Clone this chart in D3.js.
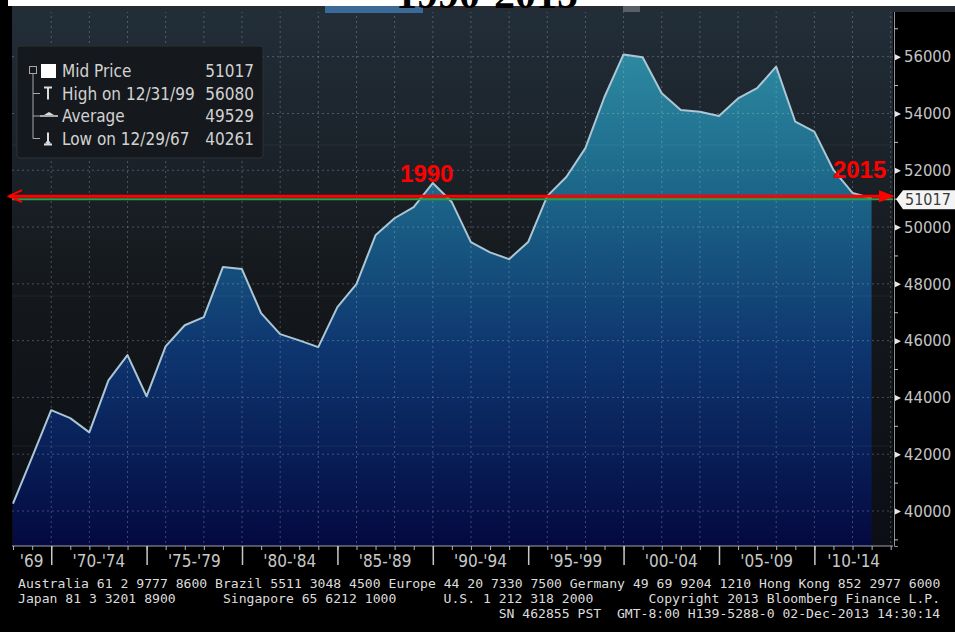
<!DOCTYPE html>
<html>
<head>
<meta charset="utf-8">
<script src="https://cdn.jsdelivr.net/npm/d3@7"></script>
<style>
body { margin: 0; background: #000; }
svg { display: block; }
</style>
</head>
<body>
<script>
"use strict"

// year-end mid price
const years = [1967, 1968, 1969, 1970, 1971, 1972, 1973, 1974, 1975, 1976, 1977, 1978, 1979,
	1980, 1981, 1982, 1983, 1984, 1985, 1986, 1987, 1988, 1989, 1990, 1991, 1992, 1993, 1994,
	1995, 1996, 1997, 1998, 1999, 2000, 2001, 2002, 2003, 2004, 2005, 2006, 2007, 2008, 2009,
	2010, 2011, 2012];
const midPrice = [40261, 41900, 43550, 43270, 42770, 44600, 45490, 44040, 45800, 46540, 46830, 48590, 48520,
	46970, 46230, 46010, 45770, 47180, 47990, 49710, 50310, 50700, 51550, 50880, 49470, 49110, 48870, 49470,
	51090, 51760, 52780, 54580, 56080, 55980, 54710, 54120, 54060, 53910, 54530, 54890, 55650, 53710, 53360,
	52010, 51200, 51017];

const yTicks = [40000, 42000, 44000, 46000, 48000, 50000, 52000, 54000, 56000];
const yMinorTicks = [39000, 41000, 43000, 45000, 47000, 49000, 51000, 53000, 55000, 57000];
const groupStarts = [1969, 1970, 1975, 1980, 1985, 1990, 1995, 2000, 2005, 2010];
const groupLabels = ["'69", "'70-'74", "'75-'79", "'80-'84", "'85-'89", "'90-'94", "'95-'99", "'00-'04", "'05-'09", "'10-'14"];

const legendNames = ['Mid Price', 'High on 12/31/99', 'Average', 'Low on 12/29/67'];
const legendValues = [51017, 56080, 49529, 40261];

// red labels, tied to the year-end point they sit over
const annotations = [['1990', 1989], ['2015', 2012]];
const title = '1990-2015';

const footerLines = [
	[[0, 'Australia 61 2 9777 8600 Brazil 5511 3048 4500 Europe 44 20 7330 7500 Germany 49 69 9204 1210 Hong Kong 852 2977 6000']],
	[[0, 'Japan 81 3 3201 8900'], [26, 'Singapore 65 6212 1000'], [54, 'U.S. 1 212 318 2000'], [80, 'Copyright 2013 Bloomberg Finance L.P.']],
	[[61, 'SN 462855 PST  GMT-8:00 H139-5288-0 02-Dec-2013 14:30:14']]
];

const w = 955;
const h = 632;
const pL = 12, pR = 893, pT = 6, pB = 546;
const uiFont = '"DejaVu Sans Condensed", "DejaVu Sans", sans-serif';

const data = years.map((y, i) => ({ date: new Date(y, 11, 31), value: midPrice[i] }));

const xScale = d3.scaleTime()
	.domain([new Date(1967, 11, 12), new Date(2014, 1, 14)])
	.range([pL, pR]);
const yScale = d3.scaleLinear()
	.domain([38767, 57785])
	.range([pB, pT]);

const svg = d3.select('body')
	.append('svg')
	.attr('width', w)
	.attr('height', h);

const defs = svg.append('defs');

const bgGrad = defs.append('linearGradient')
	.attr('id', 'bg')
	.attr('gradientUnits', 'userSpaceOnUse')
	.attr('x1', 0).attr('x2', 0).attr('y1', pT).attr('y2', pB);
bgGrad.append('stop').attr('offset', 0).attr('stop-color', '#222e39');
bgGrad.append('stop').attr('offset', 0.5).attr('stop-color', '#15191d');
bgGrad.append('stop').attr('offset', 1).attr('stop-color', '#0b0e14');

const fillGrad = defs.append('linearGradient')
	.attr('id', 'fill')
	.attr('gradientUnits', 'userSpaceOnUse')
	.attr('x1', 0).attr('x2', 0).attr('y1', 50).attr('y2', pB);
fillGrad.append('stop').attr('offset', 0).attr('stop-color', '#2d8aa1');
fillGrad.append('stop').attr('offset', 0.3).attr('stop-color', '#1b6487');
fillGrad.append('stop').attr('offset', 0.6).attr('stop-color', '#0e3670');
fillGrad.append('stop').attr('offset', 1).attr('stop-color', '#040940');

// frame
svg.append('rect').attr('width', w).attr('height', h).attr('fill', '#000');
svg.append('rect').attr('x', 8).attr('y', 0).attr('width', w - 8).attr('height', pT).attr('fill', '#fff');
svg.append('rect')
	.attr('x', pL).attr('y', pT)
	.attr('width', pR - pL).attr('height', pB - pT)
	.attr('fill', 'url(#bg)');

// area + line
const area = d3.area()
	.x(d => xScale(d.date))
	.y0(pB)
	.y1(d => yScale(d.value));
const line = d3.line()
	.x(d => xScale(d.date))
	.y(d => yScale(d.value));

svg.append('path')
	.datum(data)
	.attr('d', area)
	.attr('fill', 'url(#fill)');

// scan lines of the screen shot
svg.selectAll('.scan')
	.data([145, 296, 446])
	.enter()
	.append('line')
	.attr('x1', pL).attr('x2', pR)
	.attr('y1', d => d).attr('y2', d => d)
	.attr('stroke', '#ffffff')
	.attr('stroke-opacity', 0.06);

// dotted grid
const gridYears = d3.timeYear.every(2).range(new Date(1970, 0, 1), new Date(2015, 0, 1));
svg.selectAll('.vgrid')
	.data(gridYears)
	.enter()
	.append('line')
	.attr('x1', d => xScale(d)).attr('x2', d => xScale(d))
	.attr('y1', pT).attr('y2', pB)
	.attr('stroke', '#c8d0d8')
	.attr('stroke-opacity', 0.3)
	.attr('stroke-dasharray', '2,3');
svg.selectAll('.hgrid')
	.data(yTicks)
	.enter()
	.append('line')
	.attr('x1', pL).attr('x2', pR)
	.attr('y1', d => yScale(d)).attr('y2', d => yScale(d))
	.attr('stroke', '#c8d0d8')
	.attr('stroke-opacity', 0.3)
	.attr('stroke-dasharray', '2,3');

svg.append('path')
	.datum(data)
	.attr('d', line)
	.attr('fill', 'none')
	.attr('stroke', '#abc6d4')
	.attr('stroke-width', 2)
	.attr('stroke-linejoin', 'round');

// last price line
const lastVal = midPrice[midPrice.length - 1];
svg.append('line')
	.attr('x1', pL).attr('x2', pR)
	.attr('y1', yScale(lastVal) + 1).attr('y2', yScale(lastVal) + 1)
	.attr('stroke', '#2e9c48')
	.attr('stroke-width', 2);

// x axis
const xAxisG = svg.append('g')
	.attr('transform', 'translate(0,' + pB + ')');
xAxisG.append('line')
	.attr('x1', pL).attr('x2', pR)
	.attr('stroke', '#a0a4a8');
xAxisG.call(d3.axisBottom(xScale)
		.tickValues(d3.timeYear.range(new Date(1968, 0, 1), new Date(2015, 0, 1)))
		.tickSize(4)
		.tickFormat(''))
	.call(g => g.select('.domain').remove())
	.call(g => g.selectAll('.tick line').attr('stroke', '#b0b4b8'));
svg.append('g')
	.attr('transform', 'translate(0,' + pB + ')')
	.call(d3.axisBottom(xScale)
		.tickValues(groupStarts.slice(1).map(y => new Date(y, 0, 1)))
		.tickSize(19)
		.tickFormat(''))
	.call(g => g.select('.domain').remove())
	.call(g => g.selectAll('.tick line').attr('stroke', '#c8c8c8').attr('stroke-width', 1.5));

svg.selectAll('.grp')
	.data(groupLabels)
	.enter()
	.append('text')
	.attr('x', (d, i) => {
		const a = i === 0 ? pL : xScale(new Date(groupStarts[i], 0, 1));
		const b = i === groupLabels.length - 1 ? pR : xScale(new Date(groupStarts[i + 1], 0, 1));
		return (a + b) / 2;
	})
	.attr('y', 567)
	.attr('text-anchor', 'middle')
	.attr('font-family', uiFont)
	.attr('font-size', 17)
	.attr('fill', '#c8c8c8')
	.text(d => d);

// y axis on the right
svg.append('g')
	.attr('transform', 'translate(' + (pR + 1) + ',0)')
	.call(d3.axisRight(yScale)
		.tickValues(yMinorTicks)
		.tickSize(4)
		.tickFormat(''))
	.call(g => g.select('.domain').attr('stroke', '#8e949a'))
	.call(g => g.selectAll('.tick line').attr('stroke', '#c0c0c0'));
const yMajor = svg.append('g')
	.attr('transform', 'translate(' + (pR + 1) + ',0)')
	.call(d3.axisRight(yScale)
		.tickValues(yTicks)
		.tickSize(0)
		.tickPadding(10)
		.tickFormat(d3.format('d')))
	.call(g => g.select('.domain').remove());
yMajor.selectAll('.tick text')
	.attr('font-family', uiFont)
	.attr('font-size', 16.5)
	.attr('fill', '#c4c4c4');
yMajor.selectAll('.tick')
	.append('path')
	.attr('d', 'M1,-3L7,0L1,3Z')
	.attr('fill', '#e8e8e8');

// red annotation arrow
const ay = yScale(lastVal) - 2;
svg.append('line')
	.attr('x1', 9).attr('x2', pR - 10)
	.attr('y1', ay).attr('y2', ay)
	.attr('stroke', '#ff0000')
	.attr('stroke-width', 3);
svg.append('path')
	.attr('d', 'M' + (pR - 14) + ',' + (ay - 6) + 'L' + (pR + 2) + ',' + ay + 'L' + (pR - 14) + ',' + (ay + 6) + 'Z')
	.attr('fill', '#ff0000');
svg.append('path')
	.attr('d', 'M22,' + (ay - 6) + 'L9,' + ay + 'L22,' + (ay + 6))
	.attr('fill', 'none')
	.attr('stroke', '#ff0000')
	.attr('stroke-width', 2);

const annoDx = [-6, -12];
const annoBase = [182, 178];
svg.selectAll('.anno')
	.data(annotations)
	.enter()
	.append('text')
	.attr('x', (d, i) => xScale(new Date(d[1], 11, 31)) + annoDx[i])
	.attr('y', (d, i) => annoBase[i])
	.attr('text-anchor', 'middle')
	.attr('font-family', '"Liberation Sans", Arial, sans-serif')
	.attr('font-weight', 'bold')
	.attr('font-size', 24)
	.attr('fill', '#ff0000')
	.text(d => d[0]);

// last price tag
const tagY = yScale(lastVal) + 1;
svg.append('path')
	.attr('d', 'M' + (pR + 3) + ',' + tagY + 'L' + (pR + 10) + ',' + (tagY - 9) + 'L' + w + ',' + (tagY - 9) + 'L' + w + ',' + (tagY + 10) + 'L' + (pR + 10) + ',' + (tagY + 10) + 'Z')
	.attr('fill', '#f4f4f4');
svg.append('text')
	.attr('x', pR + 12)
	.attr('y', tagY + 6)
	.attr('font-family', uiFont)
	.attr('font-size', 16)
	.attr('fill', '#3a3a3a')
	.text(lastVal);

// legend
const lg = svg.append('g');
lg.append('rect')
	.attr('x', 17).attr('y', 46)
	.attr('width', 246).attr('height', 112)
	.attr('rx', 3)
	.attr('fill', '#15191d')
	.attr('stroke', '#2b3137');
const rowY = i => 71 + i * 22.5;
lg.selectAll('.lname')
	.data(legendNames)
	.enter()
	.append('text')
	.attr('x', 62)
	.attr('y', (d, i) => rowY(i) + 6)
	.attr('font-family', uiFont)
	.attr('font-size', 17)
	.attr('fill', '#d2d2d2')
	.text(d => d);
lg.selectAll('.lval')
	.data(legendValues)
	.enter()
	.append('text')
	.attr('x', 254)
	.attr('y', (d, i) => rowY(i) + 6)
	.attr('text-anchor', 'end')
	.attr('font-family', uiFont)
	.attr('font-size', 17)
	.attr('fill', '#d2d2d2')
	.text(d => d);
// tree and icons
lg.append('rect').attr('x', 29.5).attr('y', rowY(0) - 4.5).attr('width', 7).attr('height', 7)
	.attr('fill', 'none').attr('stroke', '#a8a8a8');
lg.append('line').attr('x1', 33).attr('x2', 33).attr('y1', rowY(0) + 3).attr('y2', rowY(3))
	.attr('stroke', '#a8a8a8');
[1, 2, 3].forEach(i => {
	lg.append('line').attr('x1', 33).attr('x2', 40).attr('y1', rowY(i)).attr('y2', rowY(i))
		.attr('stroke', '#a8a8a8');
});
lg.append('rect').attr('x', 41).attr('y', rowY(0) - 7).attr('width', 15).attr('height', 14)
	.attr('fill', '#ffffff');
lg.append('path')
	.attr('d', 'M44,' + (rowY(1) - 6) + 'H52M48,' + (rowY(1) - 6) + 'V' + (rowY(1) + 6))
	.attr('stroke', '#dcdcdc').attr('stroke-width', 2).attr('fill', 'none');
lg.append('path')
	.attr('d', 'M40,' + rowY(2) + 'H58')
	.attr('stroke', '#dcdcdc').attr('stroke-width', 1.5);
lg.append('path')
	.attr('d', 'M44,' + (rowY(2) - 1) + 'L49,' + (rowY(2) - 4) + 'L54,' + (rowY(2) - 1) + 'Z')
	.attr('fill', '#dcdcdc');
lg.append('path')
	.attr('d', 'M48,' + (rowY(3) - 6) + 'V' + (rowY(3) + 5) + 'M44,' + (rowY(3) + 6) + 'H52')
	.attr('stroke', '#dcdcdc').attr('stroke-width', 2).attr('fill', 'none');
lg.append('path')
	.attr('d', 'M45,' + (rowY(3) + 5) + 'L48,' + (rowY(3) + 1) + 'L51,' + (rowY(3) + 5) + 'Z')
	.attr('fill', '#dcdcdc');

// footer
const charW = 7.88;
footerLines.forEach((ln, r) => {
	svg.selectAll('.foot' + r)
		.data(ln)
		.enter()
		.append('text')
		.attr('x', d => 18 + d[0] * charW)
		.attr('y', 588 + r * 14.8)
		.attr('font-family', '"DejaVu Sans Mono", monospace')
		.attr('font-size', 13.1)
		.attr('fill', '#dcdcdc')
		.attr('xml:space', 'preserve')
		.text(d => d[1]);
});

// toolbar strip + title, cut by the top edge as in the screen shot
svg.append('rect').attr('x', pL).attr('y', pT).attr('width', w - pL).attr('height', 6)
	.attr('fill', '#262c33');
svg.append('rect').attr('x', 325).attr('y', pT).attr('width', 98).attr('height', 7)
	.attr('fill', '#3b6a98');
svg.append('rect').attr('x', 623).attr('y', pT).attr('width', 17).attr('height', 6)
	.attr('fill', '#5a5f66');
svg.append('text')
	.attr('x', 487)
	.attr('y', 8)
	.attr('text-anchor', 'middle')
	.attr('font-family', '"Liberation Serif", "Times New Roman", serif')
	.attr('font-weight', 'bold')
	.attr('font-size', 42)
	.attr('fill', '#000')
	.text(title);
</script>
</body>
</html>
